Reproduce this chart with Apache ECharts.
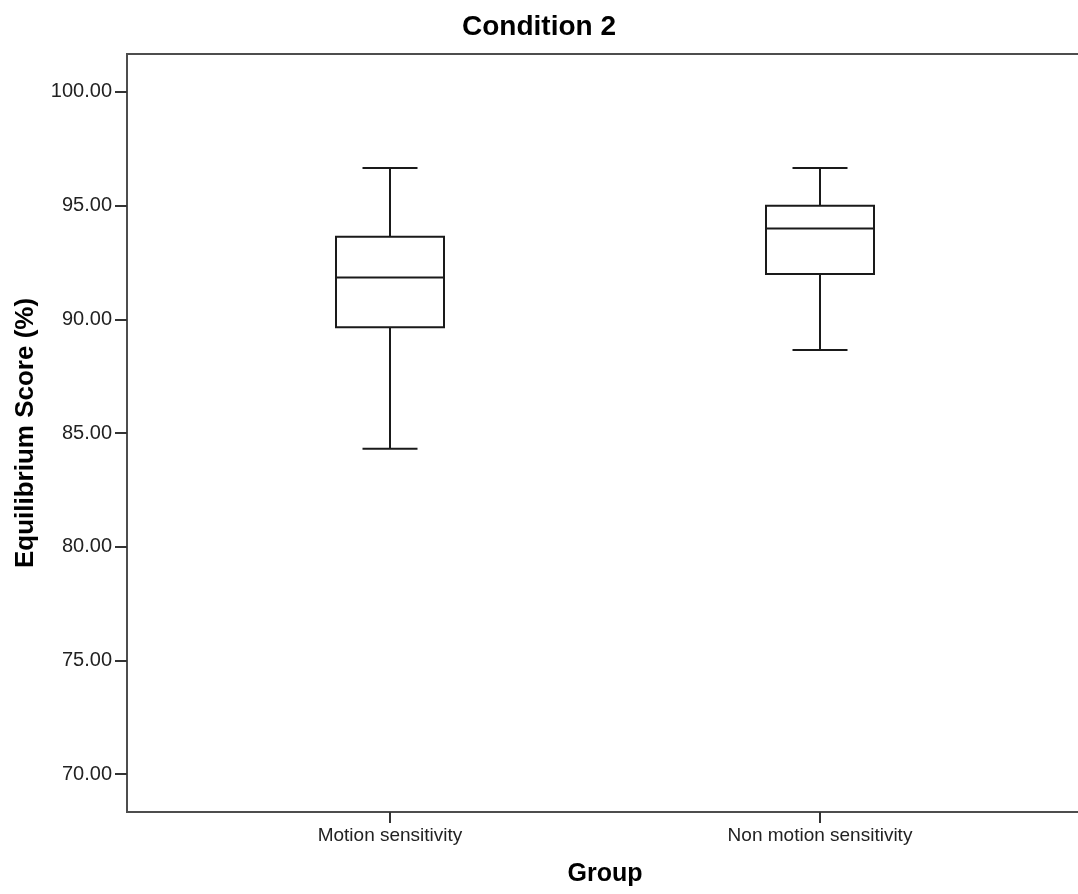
<!DOCTYPE html>
<html>
<head>
<meta charset="utf-8">
<script src="https://cdn.jsdelivr.net/npm/echarts@6/dist/echarts.min.js"></script>
<style>html,body{margin:0;padding:0;background:#fff;}#chart{width:1078px;height:894px;}</style>
</head>
<body>
<div id="chart"></div>
<script>
const categories = ['Motion sensitivity', 'Non motion sensitivity'];
const mins    = [84.31, 88.66];
const q1s     = [89.66, 92.00];
const medians = [91.84, 94.00];
const q3s     = [93.63, 95.00];
const maxs    = [96.66, 96.66];
const yTicks  = [70, 75, 80, 85, 90, 95, 100];
const yMin = 68.34, yMax = 101.67;

const boxData = categories.map((c, i) => [i, mins[i], q1s[i], medians[i], q3s[i], maxs[i]]);

const FONT = '"Liberation Sans", Arial, sans-serif';
const chart = echarts.init(document.getElementById('chart'), null, {renderer: 'canvas'});

function renderBox(params, api) {
  const x = api.value(0);
  const pMin = api.coord([x, api.value(1)]);
  const pQ1 = api.coord([x, api.value(2)]);
  const pMed = api.coord([x, api.value(3)]);
  const pQ3 = api.coord([x, api.value(4)]);
  const pMax = api.coord([x, api.value(5)]);
  const cx = pMed[0];
  const bw = 108, cw = 55;
  const st = {stroke: '#1a1a1a', lineWidth: 2, fill: null};
  return {
    type: 'group',
    children: [
      {type: 'line', shape: {x1: cx, y1: pMax[1], x2: cx, y2: pQ3[1]}, style: st},
      {type: 'line', shape: {x1: cx, y1: pQ1[1], x2: cx, y2: pMin[1]}, style: st},
      {type: 'line', shape: {x1: cx - cw / 2, y1: pMax[1], x2: cx + cw / 2, y2: pMax[1]}, style: st},
      {type: 'line', shape: {x1: cx - cw / 2, y1: pMin[1], x2: cx + cw / 2, y2: pMin[1]}, style: st},
      {type: 'rect', shape: {x: cx - bw / 2, y: pQ3[1], width: bw, height: pQ1[1] - pQ3[1]}, style: {stroke: '#1a1a1a', lineWidth: 2, fill: '#fff'}},
      {type: 'line', shape: {x1: cx - bw / 2, y1: pMed[1], x2: cx + bw / 2, y2: pMed[1]}, style: st}
    ]
  };
}

chart.setOption({
  animation: false,
  backgroundColor: '#fff',
  title: {
    text: 'Condition 2',
    left: 'center',
    top: 8,
    textStyle: {fontFamily: FONT, fontSize: 28, fontWeight: 'bold', color: '#000'}
  },
  grid: [
    {left: 127, width: 980, top: 54, bottom: 82, outerBoundsMode: 'none', show: true, borderColor: '#4d4d4d', borderWidth: 2, backgroundColor: '#fff'},
    {left: 175, width: 860, top: 54, bottom: 82, outerBoundsMode: 'none'}
  ],
  xAxis: [
    {gridIndex: 0, type: 'value', show: false, min: 0, max: 1},
    {
      gridIndex: 1, type: 'category', data: categories,
      axisLine: {show: false},
      axisTick: {show: true, alignWithLabel: true, length: 11, lineStyle: {color: '#333', width: 2}},
      axisLabel: {fontFamily: FONT, fontSize: 19, color: '#222', margin: 14},
      splitLine: {show: false},
      name: 'Group', nameLocation: 'middle', nameGap: 50,
      nameTextStyle: {fontFamily: FONT, fontSize: 25, fontWeight: 'bold', color: '#000'}
    }
  ],
  yAxis: [
    {
      gridIndex: 0, type: 'value', min: yMin, max: yMax,
      axisLine: {show: false},
      axisTick: {show: true, length: 12, customValues: yTicks, lineStyle: {color: '#333', width: 2}},
      axisLabel: {customValues: yTicks, fontFamily: FONT, fontSize: 20, color: '#222', margin: 15,
                  formatter: v => Number(v).toFixed(2)},
      splitLine: {show: false},
      name: 'Equilibrium Score (%)', nameLocation: 'middle', nameRotate: 90, nameGap: 88,
      nameTextStyle: {fontFamily: FONT, fontSize: 26, fontWeight: 'bold', color: '#000'}
    },
    {gridIndex: 1, type: 'value', min: yMin, max: yMax, show: false}
  ],
  series: [{
    type: 'custom',
    xAxisIndex: 1,
    yAxisIndex: 1,
    renderItem: renderBox,
    encode: {x: 0, y: [1, 2, 3, 4, 5]},
    data: boxData,
    z: 5
  }]
});
</script>
</body>
</html>
